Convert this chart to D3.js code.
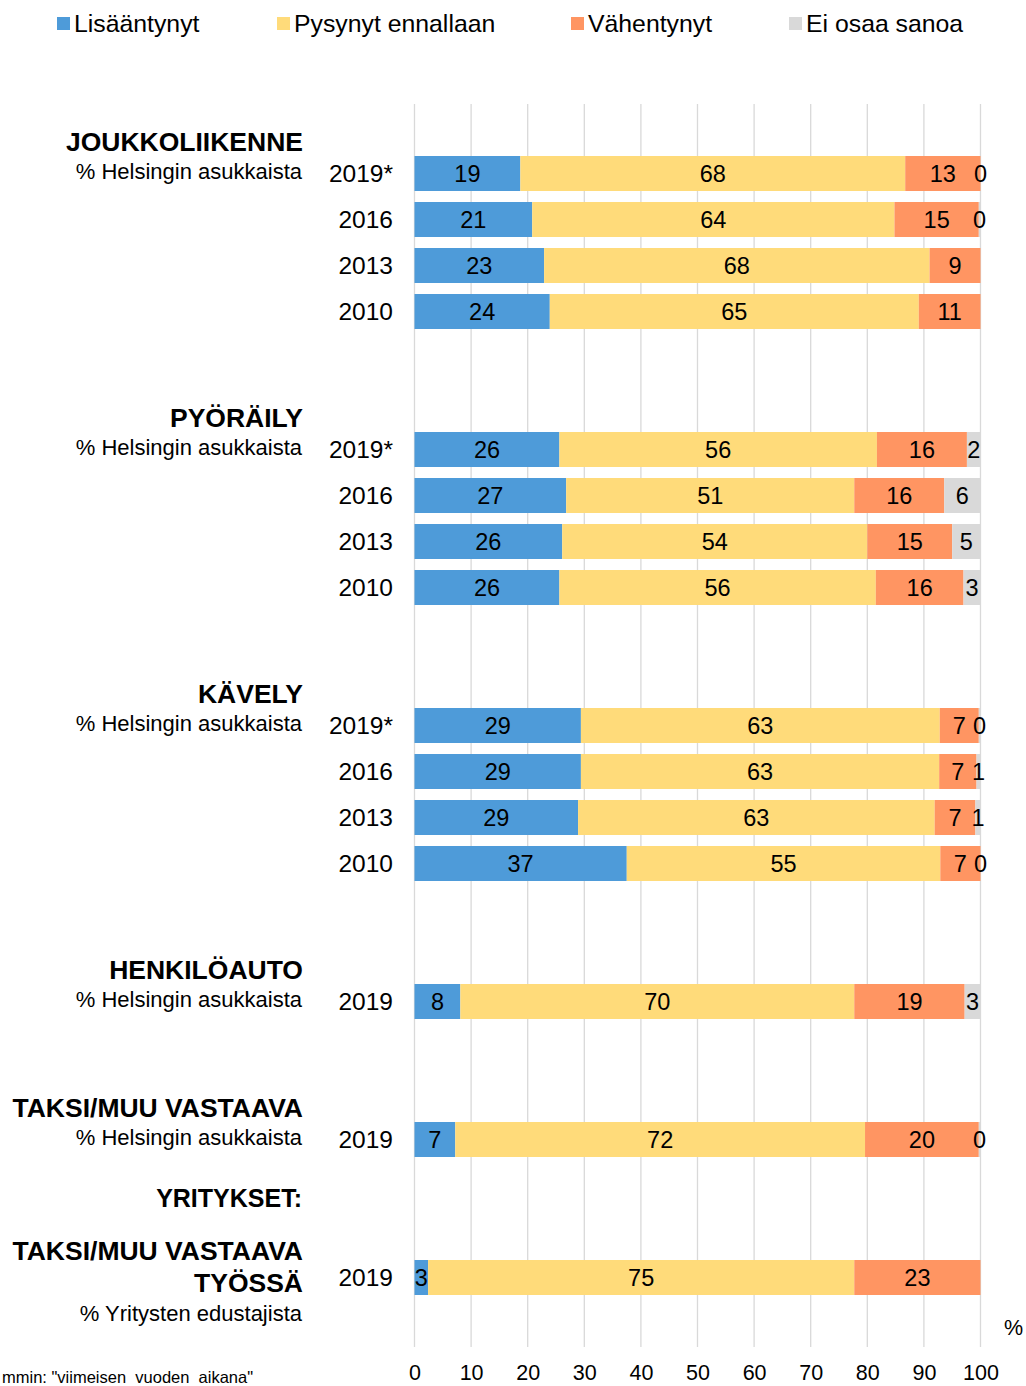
<!DOCTYPE html>
<html>
<head>
<meta charset="utf-8">
<script src="https://cdn.jsdelivr.net/npm/d3@7"></script>
<style>
  html, body { margin: 0; padding: 0; background: #fff; }
  svg { display: block; font-family: "Liberation Sans", Arial, sans-serif; }
</style>
</head>
<body>
<svg id="chart" width="1026" height="1386"></svg>
<script>
// ---- data ----
const seriesNames = ["Lisääntynyt", "Pysynyt ennallaan", "Vähentynyt", "Ei osaa sanoa"];
const groupTitles = [["JOUKKOLIIKENNE"], ["PYÖRÄILY"], ["KÄVELY"], ["HENKILÖAUTO"], ["TAKSI/MUU VASTAAVA"], ["TAKSI/MUU VASTAAVA", "TYÖSSÄ"]];
const groupSubtitles = ["% Helsingin asukkaista", "% Helsingin asukkaista", "% Helsingin asukkaista", "% Helsingin asukkaista", "% Helsingin asukkaista", "% Yritysten edustajista"];
const groupYears = [["2019*", "2016", "2013", "2010"], ["2019*", "2016", "2013", "2010"], ["2019*", "2016", "2013", "2010"], ["2019"], ["2019"], ["2019"]];
const sectionHeader = "YRITYKSET:";
// footnote as visible in the reference (its start is cut by the image edge there)
const footnote = "mmin: \"viimeisen  vuoden  aikana\"";

// bar lengths (%), one entry per row in group order
const lisaantynyt = [18.7, 20.8, 22.9, 23.9, 25.6, 26.8, 26.1, 25.6, 29.4, 29.4, 28.9, 37.5, 8.1, 7.2, 2.4];
const pysynyt     = [68.0, 64.0, 68.1, 65.2, 56.1, 50.9, 53.9, 55.9, 63.4, 63.3, 63.0, 55.4, 69.6, 72.4, 75.3];
const vahentynyt  = [13.3, 14.9,  9.0, 10.9, 15.9, 15.9, 15.0, 15.5,  6.9,  6.6,  7.2,  7.1, 19.5, 20.1, 22.3];
const eiOsaa      = [ 0.0,  0.3,  0.0,  0.0,  2.4,  6.4,  5.0,  3.0,  0.3,  0.7,  0.9,  0.0,  2.8,  0.3,  0.0];
// printed labels (null = no label)
const lblLisaantynyt = [19, 21, 23, 24, 26, 27, 26, 26, 29, 29, 29, 37, 8, 7, 3];
const lblPysynyt     = [68, 64, 68, 65, 56, 51, 54, 56, 63, 63, 63, 55, 70, 72, 75];
const lblVahentynyt  = [13, 15, 9, 11, 16, 16, 15, 16, 7, 7, 7, 7, 19, 20, 23];
const lblEiOsaa      = [0, 0, null, null, 2, 6, 5, 3, 0, 1, 1, 0, 3, 0, null];
const xTicks = [0, 10, 20, 30, 40, 50, 60, 70, 80, 90, 100];

// ---- layout ----
const colors = ["#4E9BD9", "#FFDB7A", "#FF9562", "#D9D9D9"];
const gridColor = "#D9D9D9";
const font = "'Liberation Sans', Arial, sans-serif";

const svg = d3.select("#chart");

// build rows and band domain (one blank slot on top/bottom, two between groups)
const rows = [];
const domain = ["padTop"];
let idx = 0;
groupYears.forEach((yrs, g) => {
  if (g > 0) { domain.push("gap" + g + "a", "gap" + g + "b"); }
  yrs.forEach((yr, k) => {
    const id = "r" + idx;
    domain.push(id);
    rows.push({ id, g, k, year: yr,
      vals: [lisaantynyt[idx], pysynyt[idx], vahentynyt[idx], eiOsaa[idx]],
      lbls: [lblLisaantynyt[idx], lblPysynyt[idx], lblVahentynyt[idx], lblEiOsaa[idx]] });
    idx++;
  });
});
domain.push("padBottom");

const x = d3.scaleLinear().domain([0, 100]).range([414.5, 980.5]);
const y = d3.scaleBand().domain(domain).range([104.5, 1346.5]).paddingInner(11 / 46).paddingOuter(11 / 92);
const yc = id => y(id) + y.bandwidth() / 2;

// gridlines
svg.append("g").selectAll("line").data(xTicks).join("line")
  .attr("x1", d => x(d)).attr("x2", d => x(d))
  .attr("y1", 104).attr("y2", 1347)
  .attr("stroke", gridColor).attr("stroke-width", 1.3);

// axis labels
const xAxis = d3.axisBottom(x).tickValues(xTicks).tickSize(0).tickPadding(0);
const ax = svg.append("g").attr("transform", "translate(0,1365)").call(xAxis);
ax.select(".domain").remove();
ax.selectAll("text").attr("font-size", 21.5).attr("font-family", font).attr("fill", "#000");

svg.append("text").attr("x", 1004).attr("y", 1328).attr("dominant-baseline", "central")
  .attr("font-size", 21.5).attr("font-family", font).text("%");

// bars
rows.forEach(r => {
  let acc = 0;
  const segs = r.vals.map((v, i) => { const s = { x0: acc, x1: acc + v, i, lbl: r.lbls[i] }; acc += v; return s; });
  const gRow = svg.append("g");
  gRow.selectAll("rect").data(segs.filter(s => s.x1 > s.x0)).join("rect")
    .attr("x", s => x(s.x0)).attr("width", s => x(s.x1) - x(s.x0))
    .attr("y", y(r.id)).attr("height", y.bandwidth())
    .attr("fill", s => colors[s.i]);
  gRow.selectAll("text").data(segs.filter(s => s.lbl !== null)).join("text")
    .attr("x", s => x((s.x0 + s.x1) / 2)).attr("y", yc(r.id))
    .attr("text-anchor", "middle").attr("dominant-baseline", "central")
    .attr("font-size", 23.5).attr("font-family", font).attr("fill", "#000")
    .text(s => s.lbl);
  // year label
  svg.append("text").attr("x", 393).attr("y", yc(r.id))
    .attr("text-anchor", "end").attr("dominant-baseline", "central")
    .attr("font-size", 24.5).attr("font-family", font).text(r.year);
});

// group titles and subtitles
groupTitles.forEach((lines, g) => {
  const first = rows.find(r => r.g === g);
  const cy = yc(first.id);
  let off = lines.length === 1 ? -32 : -26.5;
  lines.forEach((ln, j) => {
    svg.append("text").attr("x", 303).attr("y", cy + off + j * 32)
      .attr("text-anchor", "end").attr("dominant-baseline", "central")
      .attr("font-size", 26.5).attr("font-weight", "bold").attr("font-family", font).text(ln);
  });
  const subY = cy + off + (lines.length - 1) * 32 + 30;
  svg.append("text").attr("x", 302).attr("y", subY)
    .attr("text-anchor", "end").attr("dominant-baseline", "central")
    .attr("font-size", 22).attr("font-family", font).text(groupSubtitles[g]);
});

// section header
const lastRow = rows[rows.length - 1];
svg.append("text").attr("x", 302).attr("y", yc(lastRow.id) - 79.5)
  .attr("text-anchor", "end").attr("dominant-baseline", "central")
  .attr("font-size", 25).attr("font-weight", "bold").attr("font-family", font).text(sectionHeader);

// legend
const legendX = [57, 277, 571, 789];
const lg = svg.append("g");
seriesNames.forEach((n, i) => {
  lg.append("rect").attr("x", legendX[i]).attr("y", 17).attr("width", 13).attr("height", 13).attr("fill", colors[i]);
  lg.append("text").attr("x", legendX[i] + 17).attr("y", 23.5).attr("dominant-baseline", "central")
    .attr("font-size", 24.8).attr("font-family", font).text(n);
});

// footnote
svg.append("text").attr("x", 2).attr("y", 1377).attr("text-anchor", "start")
  .attr("dominant-baseline", "central").attr("xml:space", "preserve").style("white-space", "pre")
  .attr("font-size", 16.5).attr("font-family", font).text(footnote);
</script>
</body>
</html>
